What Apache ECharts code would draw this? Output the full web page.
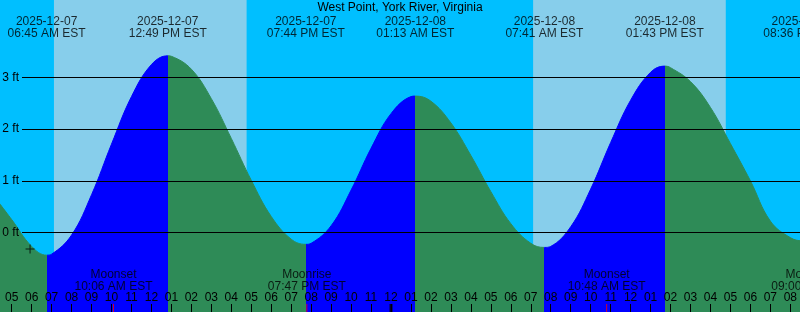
<!DOCTYPE html>
<html><head><meta charset="utf-8">
<script src="https://cdn.jsdelivr.net/npm/echarts@6/dist/echarts.min.js"></script>
<style>html,body{margin:0;padding:0;background:#00BFFF}#c{width:800px;height:312px}</style>
</head><body><div id="c"></div>
<script>
// All times are hours since 2025-12-07 00:00 EST
const chartTitle = 'West Point, York River, Virginia';
const hourTimes   = [4, 5, 6, 7, 8, 9, 10, 11, 12, 13, 14, 15, 16, 17, 18, 19, 20, 21, 22, 23, 24, 25, 26, 27, 28, 29, 30, 31, 32, 33, 34, 35, 36, 37, 38, 39, 40, 41, 42, 43, 44, 45];
const hourHeights = [0.76, 0.25, -0.27, -0.42, -0.05, 0.73, 1.71, 2.63, 3.25, 3.41, 3.16, 2.59, 1.82, 1.01, 0.31, -0.13, -0.21, 0.13, 0.82, 1.63, 2.30, 2.63, 2.54, 2.12, 1.49, 0.79, 0.17, -0.21, -0.27, 0.11, 0.84, 1.74, 2.56, 3.10, 3.19, 2.92, 2.42, 1.72, 1.00, 0.22, -0.10, -0.14];
const extremeTimes   = [6.75, 12.817, 19.733, 25.217, 31.683, 37.717, 44.6];
const extremeHeights = [-0.44, 3.42, -0.23, 2.64, -0.29, 3.22, -0.16];
const extremeKinds   = ['low', 'high', 'low', 'high', 'low', 'high', 'low'];
const extremeDates   = ['2025-12-07', '2025-12-07', '2025-12-07', '2025-12-08', '2025-12-08', '2025-12-08', '2025-12-08'];
const extremeClock   = ['06:45 AM EST', '12:49 PM EST', '07:44 PM EST', '01:13 AM EST', '07:41 AM EST', '01:43 PM EST', '08:36 PM EST'];
const sunriseTimes = [7.117, 31.117];
const sunsetTimes  = [16.767, 40.767];
const moonTimes  = [10.1, 19.783, 34.8, 45];
const moonEvents = ['Moonset', 'Moonrise', 'Moonset', 'Moonrise'];
const moonClock  = ['10:06 AM EST', '07:47 PM EST', '10:48 AM EST', '09:00 PM EST'];
const midnightTimes = [24];
const markTimes = [5.92];
const markHeights = [-0.32];
const footLevels = [0, 1, 2, 3];
const tickHours = [5, 6, 7, 8, 9, 10, 11, 12, 13, 14, 15, 16, 17, 18, 19, 20, 21, 22, 23, 24, 25, 26, 27, 28, 29, 30, 31, 32, 33, 34, 35, 36, 37, 38, 39, 40, 41, 42, 43, 44];

// layout / style constants
const X_MIN = 4.415, X_MAX = 44.415;
const Y_MIN = -1.54, Y_MAX = 4.5;
const TOP_LABEL_Y = 3.97, MOON_LABEL_Y = -0.93;
const C_NIGHT = '#00BFFF', C_DAY = '#87CEEB', C_RISE = '#0000FF', C_FALL = '#2E8B57';
const FONT = 'Liberation Sans';

const tideData = hourTimes.map((t, i) => [t, hourHeights[i]])
  .concat(extremeTimes.map((t, i) => [t, extremeHeights[i]]))
  .sort((a, b) => a[0] - b[0]);

const pieces = [];
let prev = null;
extremeTimes.forEach((t, i) => {
  const p = { lt: t, color: extremeKinds[i] === 'high' ? C_RISE : C_FALL };
  if (prev !== null) p.gte = prev;
  pieces.push(p);
  prev = t;
});
pieces.push({ gte: prev, color: extremeKinds[extremeKinds.length - 1] === 'low' ? C_RISE : C_FALL });

const pad2 = n => (n < 10 ? '0' : '') + n;
const txt = { fontFamily: FONT, fontSize: 12, color: '#000' };

const chart = echarts.init(document.getElementById('c'), null, { renderer: 'canvas' });
chart.setOption({
  animation: false,
  backgroundColor: C_NIGHT,
  title: { text: chartTitle, left: 'center', top: 0, padding: [2, 0, 0, 0],
    textStyle: Object.assign({ fontWeight: 'normal' }, txt) },
  grid: [
    { left: 0, right: 0, top: 0, bottom: 0 },
    { left: 22, right: 0, top: 0, bottom: 0 }
  ],
  xAxis: [
    { type: 'value', gridIndex: 0, min: X_MIN, max: X_MAX, z: 10, position: 'bottom',
      axisLine: { show: false, onZero: false }, splitLine: { show: false },
      axisTick: { show: true, inside: true, length: 8, customValues: tickHours, lineStyle: { color: '#000', width: 1 } },
      axisLabel: { show: true, inside: true, margin: 8, customValues: tickHours,
        fontFamily: FONT, fontSize: 12, color: '#000',
        formatter: v => { const h = ((Math.round(v) % 12) + 12) % 12 || 12; return pad2(h); } } },
    { type: 'value', gridIndex: 1, min: 0, max: 1, show: false }
  ],
  yAxis: [
    { type: 'value', gridIndex: 0, min: Y_MIN, max: Y_MAX, show: false, splitLine: { show: false } },
    { type: 'value', gridIndex: 1, min: Y_MIN, max: Y_MAX, show: false, splitLine: { show: false } }
  ],
  visualMap: { type: 'piecewise', show: false, dimension: 0, seriesIndex: 1, pieces: pieces },
  series: [
    { type: 'line', xAxisIndex: 0, yAxisIndex: 0, data: [], z: 1, silent: true,
      markArea: { silent: true, itemStyle: { color: C_DAY, opacity: 1 },
        data: sunriseTimes.map((t, i) => [{ xAxis: t }, { xAxis: sunsetTimes[i] }]) } },
    { type: 'line', xAxisIndex: 0, yAxisIndex: 0, data: tideData, z: 2, smooth: 0.4,
      showSymbol: false, silent: true, lineStyle: { width: 1 },
      areaStyle: { origin: 'start', opacity: 1 } },
    { type: 'line', xAxisIndex: 1, yAxisIndex: 1, data: [], z: 5, silent: true,
      markLine: { silent: true, symbol: ['none', 'none'],
        lineStyle: { color: '#000', width: 1, type: 'solid' },
        label: Object.assign({ show: true, position: 'start', distance: 3, formatter: p => p.value + ' ft' }, txt),
        data: footLevels.map(v => ({ yAxis: v })) } },
    { type: 'scatter', xAxisIndex: 0, yAxisIndex: 0, z: 6, clip: false, silent: true,
      symbolSize: 1, itemStyle: { color: 'transparent' },
      data: extremeTimes.map(t => [t, TOP_LABEL_Y]),
      label: Object.assign({ show: true, position: 'inside', lineHeight: 12,
        formatter: p => extremeDates[p.dataIndex] + '\n' + extremeClock[p.dataIndex] }, txt) },
    { type: 'scatter', xAxisIndex: 0, yAxisIndex: 0, z: 6, clip: false, silent: true,
      symbolSize: 1, itemStyle: { color: 'transparent' },
      data: moonTimes.map(t => [t, MOON_LABEL_Y]),
      label: Object.assign({ show: true, position: 'inside', lineHeight: 12,
        formatter: p => moonEvents[p.dataIndex] + '\n' + moonClock[p.dataIndex] }, txt) },
    { type: 'scatter', xAxisIndex: 0, yAxisIndex: 0, z: 11, clip: true, silent: true,
      symbol: 'rect', symbolSize: [1, 8], symbolOffset: [0, -4], itemStyle: { color: '#FF0000' },
      data: moonTimes.map(t => [t, Y_MIN]) },
    { type: 'scatter', xAxisIndex: 0, yAxisIndex: 0, z: 12, clip: true, silent: true,
      symbol: 'rect', symbolSize: [3, 8], symbolOffset: [0, -4], itemStyle: { color: '#000' },
      data: midnightTimes.map(t => [t, Y_MIN]) },
    { type: 'scatter', xAxisIndex: 0, yAxisIndex: 0, z: 12, silent: true,
      symbol: 'path://M0,4h9v1h-9z M4,0h1v9h-1z', symbolSize: 9, itemStyle: { color: '#000' },
      data: markTimes.map((t, i) => [t, markHeights[i]]) }
  ]
});
</script>
</body></html>
